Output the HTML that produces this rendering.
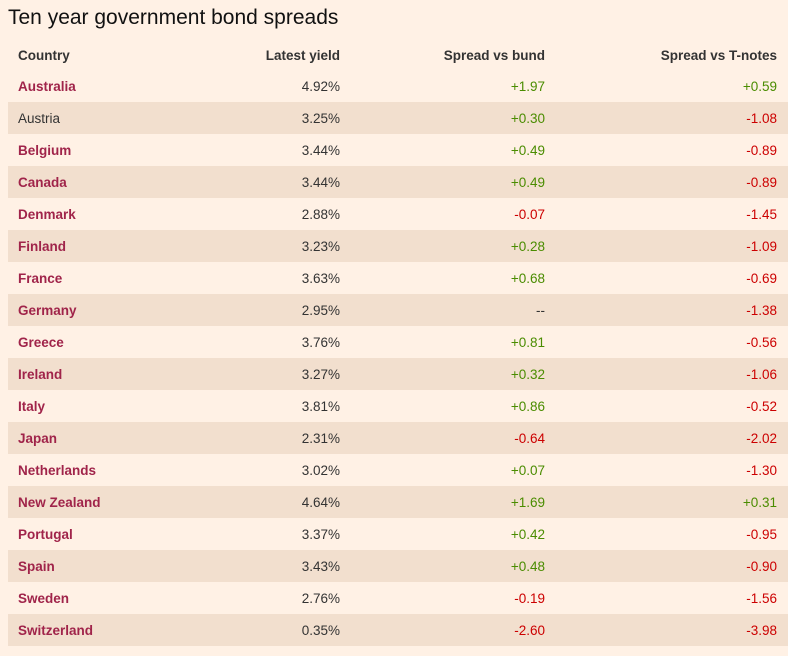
<!DOCTYPE html>
<html><head><style>
body{margin:0;background:#fff1e5;width:788px;height:656px;overflow:hidden;font-family:"Liberation Sans",sans-serif;}
h1{position:absolute;left:8px;top:6px;margin:0;font-weight:normal;font-size:21px;color:#111;}
table{position:absolute;left:8px;top:40px;width:780px;border-collapse:collapse;font-size:13.5px;}
td,th{height:32px;padding:0;color:#333;}
th{height:30px;font-weight:bold;color:#333;}
td:first-child,th:first-child{text-align:left;padding-left:10px;}
td:nth-child(2),th:nth-child(2){text-align:right;width:150px;}
td:nth-child(3),th:nth-child(3){text-align:right;width:205px;}
td:nth-child(4),th:nth-child(4){text-align:right;width:232px;padding-right:11px;}
tr.s td{background:#f2dfce;}
.c{color:#a0244a;font-weight:bold;}
.g{color:#4a8c00;}.r{color:#cc0000;}
</style></head><body>
<h1>Ten year government bond spreads</h1>
<table>
<tr><th>Country</th><th>Latest yield</th><th>Spread vs bund</th><th>Spread vs T-notes</th></tr>
<tr><td class="c">Australia</td><td>4.92%</td><td class="g">+1.97</td><td class="g">+0.59</td></tr>
<tr class="s"><td>Austria</td><td>3.25%</td><td class="g">+0.30</td><td class="r">-1.08</td></tr>
<tr><td class="c">Belgium</td><td>3.44%</td><td class="g">+0.49</td><td class="r">-0.89</td></tr>
<tr class="s"><td class="c">Canada</td><td>3.44%</td><td class="g">+0.49</td><td class="r">-0.89</td></tr>
<tr><td class="c">Denmark</td><td>2.88%</td><td class="r">-0.07</td><td class="r">-1.45</td></tr>
<tr class="s"><td class="c">Finland</td><td>3.23%</td><td class="g">+0.28</td><td class="r">-1.09</td></tr>
<tr><td class="c">France</td><td>3.63%</td><td class="g">+0.68</td><td class="r">-0.69</td></tr>
<tr class="s"><td class="c">Germany</td><td>2.95%</td><td>--</td><td class="r">-1.38</td></tr>
<tr><td class="c">Greece</td><td>3.76%</td><td class="g">+0.81</td><td class="r">-0.56</td></tr>
<tr class="s"><td class="c">Ireland</td><td>3.27%</td><td class="g">+0.32</td><td class="r">-1.06</td></tr>
<tr><td class="c">Italy</td><td>3.81%</td><td class="g">+0.86</td><td class="r">-0.52</td></tr>
<tr class="s"><td class="c">Japan</td><td>2.31%</td><td class="r">-0.64</td><td class="r">-2.02</td></tr>
<tr><td class="c">Netherlands</td><td>3.02%</td><td class="g">+0.07</td><td class="r">-1.30</td></tr>
<tr class="s"><td class="c">New Zealand</td><td>4.64%</td><td class="g">+1.69</td><td class="g">+0.31</td></tr>
<tr><td class="c">Portugal</td><td>3.37%</td><td class="g">+0.42</td><td class="r">-0.95</td></tr>
<tr class="s"><td class="c">Spain</td><td>3.43%</td><td class="g">+0.48</td><td class="r">-0.90</td></tr>
<tr><td class="c">Sweden</td><td>2.76%</td><td class="r">-0.19</td><td class="r">-1.56</td></tr>
<tr class="s"><td class="c">Switzerland</td><td>0.35%</td><td class="r">-2.60</td><td class="r">-3.98</td></tr>
</table>
</body></html>
